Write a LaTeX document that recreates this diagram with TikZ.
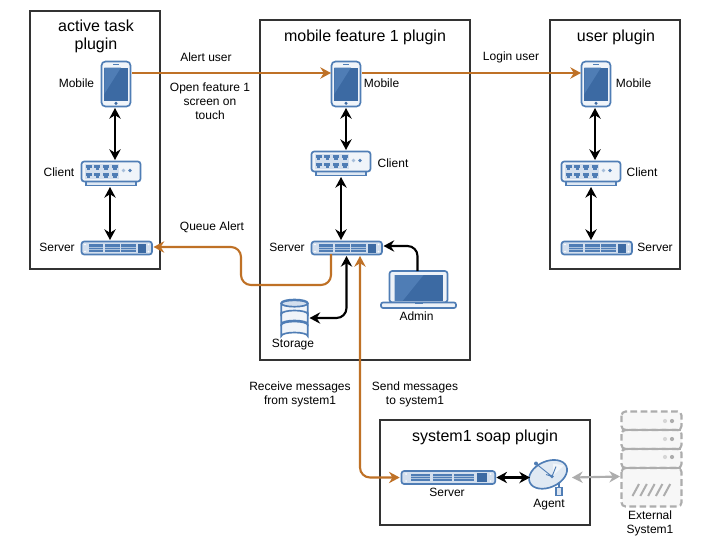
\documentclass[tikz,border=0pt]{standalone}
\usepackage{fontspec}
\setmainfont{Liberation Sans}
\usetikzlibrary{arrows.meta}
\definecolor{ibl}{HTML}{4F7DB5}
\definecolor{ifl}{HTML}{D3DFEE}
\definecolor{idk}{HTML}{3C6AA3}
\definecolor{imd}{HTML}{4F7DB5}
\definecolor{org}{HTML}{BF7126}
\definecolor{frame}{HTML}{333333}
\definecolor{gr}{HTML}{ADADAD}
\tikzset{
  x=0.75pt,y=-0.75pt,
  plugin/.style={draw=frame,line width=1.6pt,fill=white},
  icon/.style 2 args={minimum width=#1*0.75pt,minimum height=#2*0.75pt,inner sep=0pt,outer sep=0pt},
  lbl/.style={font=\fontsize{9}{10.5}\selectfont,align=center,inner sep=0pt,text=black},
  ttl/.style={font=\fontsize{12}{13.5}\selectfont,align=center,inner sep=0pt,text=black},
  head/.style={>={Stealth[length=8pt,width=8.5pt,inset=2.6pt]}},
  blk/.style={head,draw=black,line width=1.6pt,rounded corners=7.5pt},
  orng/.style={head,draw=org,line width=1.6pt,rounded corners=7.5pt},
  gry/.style={head,draw=gr,line width=1.6pt},
  ln/.style={draw=ibl,line width=1.25pt},
  mobile/.pic={
    \draw[ln,fill=ifl!35!white,rounded corners=3pt] (-14.5,-22.5) rectangle (14.5,22.5);
    \fill[idk] (-11.7,-16.5) rectangle (11.7,16.5);
    \fill[imd] (-11.7,-16.5) -- (5,-16.5) -- (-11.7,10) -- cycle;
    \fill[imd] (-3,-20.5) rectangle (3,-19);
    \fill[idk] (0,19.3) circle (1.7);
  },
  switchbox/.pic={
    \draw[ln,fill=ifl!70!white] (-25,6) rectangle (25,12);
    \draw[ln,fill=ifl!35!white,rounded corners=2pt] (-29.5,-12) rectangle (29.5,8);
    \fill[ifl] (-26.5,-10) rectangle (7.5,5.5);
    \foreach \i in {0,1,2,3}{\foreach \j in {-9,-1}{
      \fill[imd] (-25.5+\i*8.7,\j) rectangle +(6.2,3.8);
      \fill[imd] (-24.2+\i*8.7,\j+3.6) rectangle +(3.6,1.8);
    }}
    \fill[ibl!50!white] (12.5,-3) circle (1.8);
    \fill[imd] (19,-3) circle (1.8);
  },
  serverbox/.pic={
    \draw[ln,fill=ifl,rounded corners=2pt] (-35,-6.5) rectangle (35.5,6.5);
    \foreach \i in {0,1,2}{
      \fill[imd] (-27.7+\i*16.2,-3.7) rectangle +(14.5,7.4);
      \draw[ifl!70!imd,line width=.6pt] (-27.7+\i*16.2,-1) -- +(14.5,0) (-27.7+\i*16.2,1.2) -- +(14.5,0);
    }
    \fill[idk] (21.7,-4.5) rectangle (29,4.5);
    \foreach \a in {-31.5,32}{\fill[white] (\a,-3.5) circle (.8) (\a,3.5) circle (.8);}
  },
  storagebox/.pic={
    \foreach \t in {7,-5,-15}{
      \draw[ln,fill=ifl!35!white] (-13.2,\t) -- (-13.2,\t+11) arc[start angle=180,end angle=360,x radius=13.2,y radius=3.5] -- (13.2,\t) arc[start angle=0,end angle=-180,x radius=13.2,y radius=3.5] -- cycle;
    }
    \draw[ln,fill=ifl] (0,-14.5) ellipse [x radius=13.2,y radius=3.2];
  },
  laptopbox/.pic={
    \draw[ln,fill=ifl!40!white,rounded corners=2pt] (-29,-18.5) rectangle (29,13);
    \fill[idk] (-24,-14.5) rectangle (24,11.5);
    \fill[imd] (-24,-14.5) -- (5,-14.5) -- (-16,11.5) -- (-24,11.5) -- cycle;
    \draw[ln,fill=ifl!40!white,rounded corners=1.5pt] (-37.5,13) -- (37.5,13) -- (37.5,18.5) -- (-37.5,18.5) -- cycle;
    \fill[imd] (-4,13) rectangle (4,14.5);
  },
  dishbox/.pic={
    \draw[ln,fill=ifl!80!white] (5,9) rectangle (11,17);
    \draw[ln] (8,4) -- (8,9);
    \begin{scope}[rotate=24]
      \draw[ln,fill=ifl!70!white] (-1,-5) ellipse [x radius=20,y radius=13];
    \end{scope}
    \fill[white,opacity=.6] (2,-15) -- (13,-13) -- (2,-3) -- cycle;
    \draw[ln,line width=.7pt] (-14,-14) -- (1,-2) (-5,-4) -- (1,-2) (5,-12) -- (1,-2);
    \fill[imd] (-15,-15) circle (2);
    \fill[imd] (1,-2) circle (1.8);
  },
  extbox/.pic={
    \begin{scope}[draw=gr,line width=1.6pt,dash pattern=on 5pt off 2.6pt]
      \draw[fill=black!3,rounded corners=3pt] (-30,-47.5) rectangle (30,-29);
      \draw[fill=black!3,rounded corners=3pt] (-30,-29) rectangle (30,-10);
      \draw[fill=black!3,rounded corners=3pt] (-30,-10) rectangle (30,9);
      \draw[fill=black!3,rounded corners=3pt] (-30,9) rectangle (30,47.5);
    \end{scope}
    \draw[gr,line width=1.9pt] (-29,-29) -- (29,-29) (-29,-10) -- (29,-10) (-29,9) -- (29,9);
    \foreach \v in {-38,-20,-2}{
      \fill[gr!50!white] (13.5,\v) circle (2.1);
      \fill[gr] (20.5,\v) circle (2.1);
    }
    \foreach \i in {0,1,2,3,4}{\draw[gr,line width=1.5pt] (-19+\i*7.8,37) -- (-12.5+\i*7.8,25);}
  },
}
\begin{document}
\begin{tikzpicture}
\useasboundingbox (0,0) rectangle (705,557);
\fill[white] (0,0) rectangle (705,557);
% plugin frames
\node[plugin,icon={130}{258},anchor=north west] (pa) at (30,11) {};
\node[plugin,icon={210}{340},anchor=north west] (pb) at (260,20) {};
\node[plugin,icon={130}{249},anchor=north west] (pc) at (550,20) {};
\node[plugin,icon={210}{105},anchor=north west] (pd) at (380,420) {};
% icon anchors
\node[icon={30}{46}] (m1) at (116,84) {};
\node[icon={30}{46}] (m2) at (346,84) {};
\node[icon={30}{46}] (m3) at (596,84) {};
\node[icon={60}{25}] (c1) at (111,173.5) {};
\node[icon={60}{25}] (c2) at (341,163.5) {};
\node[icon={60}{25}] (c3) at (591,173.5) {};
\node[icon={71}{14}] (s1) at (116.5,248) {};
\node[icon={71}{14}] (s2) at (346.5,248) {};
\node[icon={71}{14}] (s3) at (596.5,248) {};
\node[icon={94}{14}] (s4) at (448,477.5) {};
\node[icon={27}{36}] (st) at (294.5,318) {};
\node[icon={75}{37}] (la) at (418.5,289.5) {};
\node[icon={40}{36}] (di) at (551,478.5) {};
\node[icon={61}{96}] (ex) at (651.5,459) {};
\coordinate (k1) at (331,285);
\coordinate (k2) at (241,285);
\coordinate (k3) at (241,247);
\coordinate (k4) at (360,477.5);
% icons
\foreach \a/\b in {116/84,346/84,596/84}{\pic at (\a,\b) {mobile};}
\foreach \a/\b in {111/173.5,341/163.5,591/173.5}{\pic at (\a,\b) {switchbox};}
\foreach \a/\b in {116.5/248,346.5/248,596.5/248}{\pic at (\a,\b) {serverbox};}
\pic[xscale=1.33] at (448,477.5) {serverbox};
\pic at (294.5,318) {storagebox};
\pic at (418.5,289.5) {laptopbox};
\pic at (551,478.5) {dishbox};
\pic at (651.5,459) {extbox};
% connectors
\draw[orng,->] ([shift={(1,-11)}]m1.east) -- ([shift={(-0,-11)}]m2.west);
\draw[orng,->] ([shift={(1,-11)}]m2.east) -- ([shift={(0,-11)}]m3.west);
\draw[blk,<->] ([shift={(-1,1)}]m1.south) -- ([shift={(4,-1)}]c1.north);
\draw[blk,<->] ([shift={(-1,1)}]c1.south) -- ([shift={(-6.5,-1)}]s1.north);
\draw[blk,<->] ([shift={(0,1)}]m2.south) -- ([shift={(5,-1)}]c2.north);
\draw[blk,<->] ([shift={(0,1)}]c2.south) -- ([shift={(-5.5,-1)}]s2.north);
\draw[blk,<->] ([shift={(-1,1)}]m3.south) -- ([shift={(4,-1)}]c3.north);
\draw[blk,<->] ([shift={(0,1)}]c3.south) -- ([shift={(-5.5,-1)}]s3.north);
\draw[orng,->] ([shift={(-15.5,-1)}]s2.south) -- (k1) -- (k2) -- (k3) -- ([shift={(1.5,-1)}]s1.east);
\draw[blk,->] ([xshift=-0.75pt]la.north) -- ++(0,-25) -- ([shift={(1.5,-2)}]s2.east);
\draw[blk,<->] ([shift={(0,1)}]s2.south) -- ++(0,62) -- ([shift={(1.5,0)}]st.east);
\draw[orng,<->] ([shift={(13.5,1)}]s2.south) -- (k4) -- ([xshift=-1pt]s4.west);
\draw[blk,<->] ([xshift=1pt]s4.east) -- ([shift={(-1,-1)}]di.west);
\draw[gry,<->] ([shift={(1,-1)}]di.east) -- ([shift={(-1,17.5)}]ex.west);
% titles
\node[ttl] (t1) at (96,36.5) {active task\\plugin};
\node[ttl] (t2) at (365,37) {mobile feature 1 plugin};
\node[ttl] (t3) at (616,37) {user plugin};
\node[ttl] (t4) at (485,437) {system1 soap plugin};
% labels
\node[lbl] (l1) at (76.5,83) {Mobile};
\node[lbl] (l2) at (59,172.5) {Client};
\node[lbl] (l3) at (57,247) {Server};
\node[lbl] (l4) at (381.5,83) {Mobile};
\node[lbl] (l5) at (393,163) {Client};
\node[lbl] (l6) at (287,247) {Server};
\node[lbl] (l7) at (633.5,83) {Mobile};
\node[lbl] (l8) at (642,172.5) {Client};
\node[lbl] (l9) at (655,247) {Server};
\node[lbl] (l10) at (293,345) {Storage};
\node[lbl] (l11) at (416.5,316) {Admin};
\node[lbl] (l12) at (447,492.5) {Server};
\node[lbl] (l13) at (549,505) {Agent};
\node[lbl] (l14) at (650,523) {External\\System1};
\node[lbl] (e1) at (206,57) {Alert user};
\node[lbl] (e2) at (210,101) {Open feature 1\\screen on\\touch};
\node[lbl] (e3) at (212,227) {Queue Alert};
\node[lbl] (e4) at (511,57) {Login user};
\node[lbl] (e5) at (300,394) {Receive messages\\from system1};
\node[lbl] (e6) at (415,394) {Send messages\\to system1};
\end{tikzpicture}
\end{document}
